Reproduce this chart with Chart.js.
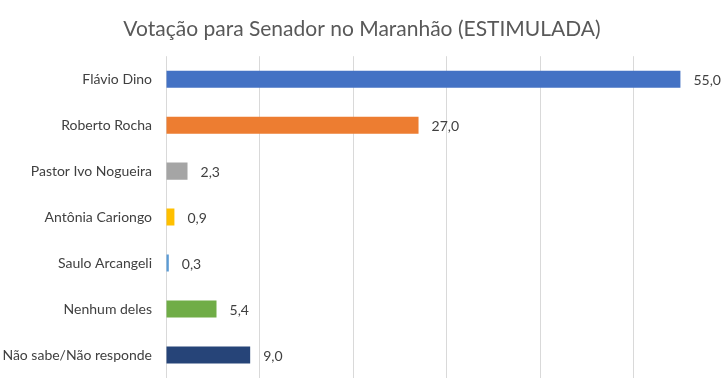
<!DOCTYPE html>
<html>
<head>
<meta charset="utf-8">
<script src="https://cdn.jsdelivr.net/npm/chart.js@4"></script>
<style>
  html, body { margin: 0; padding: 0; background: #fff; }
  #wrap { width: 724px; height: 378px; }
</style>
</head>
<body>
<div id="wrap"><canvas id="chart"></canvas></div>
<script>
// Data
const categories = ['Flávio Dino', 'Roberto Rocha', 'Pastor Ivo Nogueira', 'Antônia Cariongo', 'Saulo Arcangeli', 'Nenhum deles', 'Não sabe/Não responde'];
const values = [55.0, 27.0, 2.3, 0.9, 0.3, 5.4, 9.0];
const barColors = ['#4472C4', '#ED7D31', '#A5A5A5', '#FFC000', '#5B9BD5', '#70AD47', '#264478'];
const gridTicks = [0, 10, 20, 30, 40, 50];

const FONT = 'Lato, "Open Sans", sans-serif';

// Value labels to the right of each bar
const valueLabels = {
    id: 'valueLabels',
    afterDatasetsDraw(chart) {
        const ctx = chart.ctx;
        const meta = chart.getDatasetMeta(0);
        ctx.save();
        ctx.font = '14px ' + FONT;
        ctx.fillStyle = '#404040';
        ctx.textAlign = 'left';
        ctx.textBaseline = 'middle';
        meta.data.forEach((bar, i) => {
            const txt = values[i].toFixed(1).replace('.', ',');
            ctx.fillText(txt, bar.x + 13, bar.y + 1);
        });
        ctx.restore();
    }
};

new Chart(document.getElementById('chart'), {
    type: 'bar',
    data: {
        labels: categories,
        datasets: [{
            data: values,
            backgroundColor: barColors,
            barPercentage: 0.37,
            categoryPercentage: 1
        }]
    },
    options: {
        indexAxis: 'y',
        responsive: true,
        maintainAspectRatio: false,
        animation: false,
        layout: { padding: 0 },
        plugins: {
            legend: { display: false },
            tooltip: { enabled: false },
            title: {
                display: true,
                text: 'Votação para Senador no Maranhão (ESTIMULADA)',
                color: '#595959',
                font: { family: FONT, size: 21, weight: 'normal' },
                padding: { top: 17, bottom: 14 }
            }
        },
        scales: {
            x: {
                min: 0,
                max: 59.66,
                afterBuildTicks: (scale) => {
                    scale.ticks = gridTicks.map(v => ({ value: v }));
                },
                afterFit: (scale) => { scale.height = 0; },
                ticks: { display: false },
                grid: { color: '#D9D9D9', lineWidth: 1, drawTicks: false },
                border: { display: false }
            },
            y: {
                afterFit: (scale) => {
                    scale.width = 166;
                    scale.paddingTop = 0;
                    scale.paddingBottom = 0;
                },
                ticks: {
                    color: '#404040',
                    padding: 14,
                    font: { family: FONT, size: 14 }
                },
                grid: { display: false, drawTicks: false },
                border: { display: false }
            }
        }
    },
    plugins: [valueLabels]
});
</script>
</body>
</html>
